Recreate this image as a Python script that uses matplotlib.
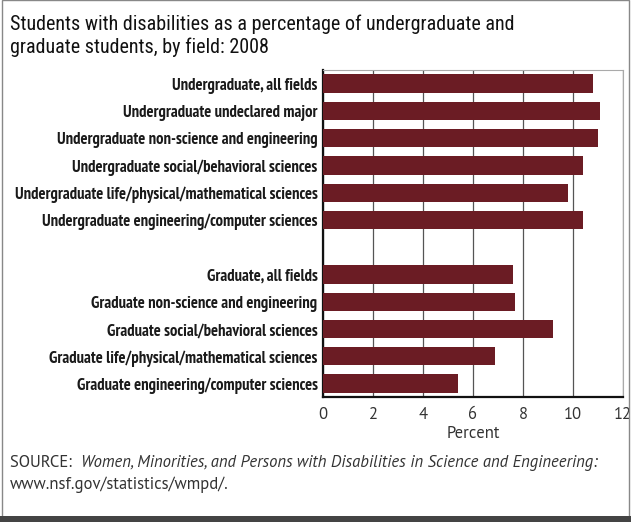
import matplotlib
matplotlib.use("Agg")
import matplotlib.pyplot as plt
from matplotlib.patches import Rectangle

# data
labels = [
    "Undergraduate, all fields",
    "Undergraduate undeclared major",
    "Undergraduate non-science and engineering",
    "Undergraduate social/behavioral sciences",
    "Undergraduate life/physical/mathematical sciences",
    "Undergraduate engineering/computer sciences",
    "Graduate, all fields",
    "Graduate non-science and engineering",
    "Graduate social/behavioral sciences",
    "Graduate life/physical/mathematical sciences",
    "Graduate engineering/computer sciences",
]
values = [10.8, 11.1, 11.0, 10.4, 9.8, 10.4, 7.6, 7.7, 9.2, 6.9, 5.4]
# one empty slot between the undergraduate and graduate groups
slots = [0, 1, 2, 3, 4, 5, 7, 8, 9, 10, 11]
xticks = [0, 2, 4, 6, 8, 10, 12]

bar_color = "#6b1c24"
title_font = "Roboto Condensed"
label_font = "PT Sans Narrow"
body = "PT Sans"

fig = plt.figure(figsize=(6.31, 5.22), dpi=100)
ax = fig.add_axes([0.512, 0.239, 0.475, 0.627])

ax.barh(slots, values, height=0.67, color=bar_color, zorder=3)
ax.set_xlim(0, 12)
ax.set_ylim(11.5, -0.5)
ax.set_xticks(xticks)
ax.set_xticklabels([str(t) for t in xticks], fontsize=12, family=body, color="#333333")
ax.set_yticks(slots)
ax.set_yticklabels(labels, fontsize=12, family=label_font, fontweight="bold", color="#1a1a1a")
ax.tick_params(axis="both", length=0, pad=4)
ax.tick_params(axis="x", pad=7)
ax.grid(axis="x", color="#555555", linewidth=0.9, zorder=1)
ax.set_xlabel("Percent", fontsize=12, family=body, color="#333333", labelpad=2)

for side in ["top", "right"]:
    ax.spines[side].set_color("#aaaaaa")
    ax.spines[side].set_linewidth(0.8)
ax.spines["left"].set_color("#111111")
ax.spines["left"].set_linewidth(1.6)
ax.spines["bottom"].set_color("#111111")
ax.spines["bottom"].set_linewidth(1.6)

fig.text(0.016, 0.972, "Students with disabilities as a percentage of undergraduate and\n"
         "graduate students, by field: 2008",
         fontsize=14.5, family=title_font, color="#111111",
         va="top", linespacing=1.25)

# source line: regular prefix followed by an italic title
src = fig.text(0.016, 0.105, "SOURCE:  ", fontsize=12, family=body, color="#333333", va="baseline")
fig.canvas.draw()
bb = src.get_window_extent(renderer=fig.canvas.get_renderer())
x_it = bb.x1 / fig.bbox.width
fig.text(x_it, 0.105, "Women, Minorities, and Persons with Disabilities in Science and Engineering:",
         fontsize=12, family=body, style="italic", color="#333333", va="baseline")
fig.text(0.016, 0.063, "www.nsf.gov/statistics/wmpd/.", fontsize=12, family=body,
         color="#333333", va="baseline")

# frame around the whole figure
fig.patches.append(Rectangle((0.003, 0.01), 0.994, 0.99, transform=fig.transFigure,
                             fill=False, edgecolor="#888888", linewidth=1.0))
fig.patches.append(Rectangle((0.0, 0.0), 1.0, 0.012, transform=fig.transFigure,
                             facecolor="#444444", edgecolor="none"))

fig.savefig("out.png", dpi=100)
